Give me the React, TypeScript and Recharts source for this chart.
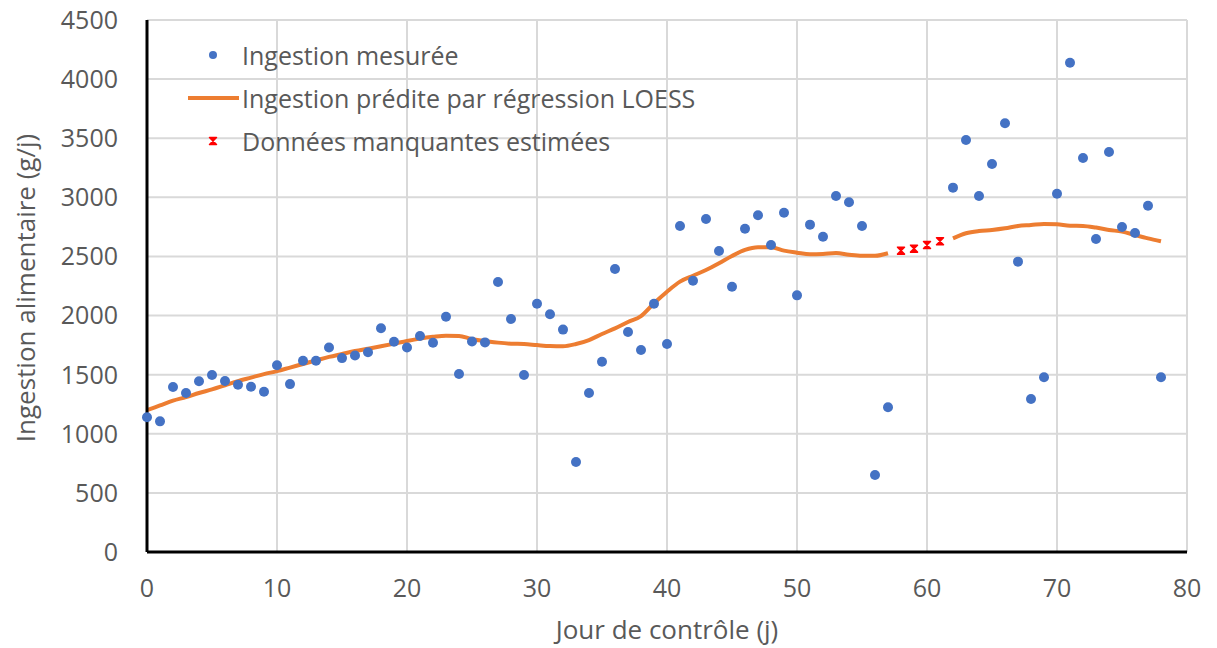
import React from 'react';
import {
  ComposedChart,
  Line,
  Scatter,
  XAxis,
  YAxis,
  CartesianGrid,
} from 'recharts';

// control days
const days: number[] = Array.from({ length: 79 }, (_, i) => i);

// measured intake (g/j), null = missing day
const measured: (number | null)[] = [
  1140, 1105, 1395, 1345, 1445, 1497, 1446, 1414, 1398, 1355,
  1580, 1420, 1618, 1618, 1730, 1640, 1662, 1690, 1893, 1778,
  1730, 1827, 1770, 1990, 1506, 1780, 1773, 2284, 1971, 1497,
  2100, 2011, 1881, 761, 1345, 1610, 2394, 1861, 1709, 2100,
  1760, 2758, 2295, 2817, 2546, 2244, 2735, 2848, 2597, 2870,
  2171, 2769, 2667, 3011, 2958, 2758, 651, 1224, null, null,
  null, null, 3082, 3485, 3011, 3282, 3626, 2456, 1294, 1478,
  3031, 4139, 3333, 2648, 3384, 2749, 2698, 2929, 1478,
];

// LOESS prediction, gap on the missing days
const loess: (number | null)[] = [
  1200, 1240, 1280, 1310, 1345, 1375, 1410, 1445, 1475, 1505,
  1530, 1560, 1590, 1620, 1650, 1675, 1700, 1720, 1740, 1762,
  1785, 1805, 1820, 1830, 1828, 1800, 1785, 1771, 1762, 1759,
  1750, 1742, 1740, 1759, 1793, 1844, 1892, 1946, 1996, 2104,
  2202, 2287, 2337, 2385, 2442, 2504, 2555, 2577, 2577, 2549,
  2532, 2518, 2521, 2529, 2515, 2506, 2506, 2527, null, null,
  null, null, 2653, 2696, 2715, 2724, 2738, 2758, 2766, 2775,
  2772, 2760, 2758, 2744, 2724, 2710, 2681, 2653, 2628,
];

// estimated missing values
const estimatedDays: number[] = [58, 59, 60, 61];
const estimatedValues: number[] = [2549, 2566, 2597, 2628];

const xTicks = [0, 10, 20, 30, 40, 50, 60, 70, 80];
const yTicks = [0, 500, 1000, 1500, 2000, 2500, 3000, 3500, 4000, 4500];

const tableData = days.map((d, i) => ({ day: d, loess: loess[i] }));
const measuredData = days
  .map((d, i) => ({ day: d, value: measured[i] }))
  .filter(p => p.value !== null);
const estimatedData = estimatedDays.map((d, i) => ({ day: d, value: estimatedValues[i] }));

const FONT = '"Open Sans", "Noto Sans", sans-serif';
const GREY = '#595959';

const XMark = (props: any) => {
  const { cx, cy } = props;
  if (cx == null || cy == null) return null;
  const s = 3.5;
  return (
    <path
      d={`M${cx - s},${cy - s} L${cx + s},${cy - s} L${cx - s},${cy + s} L${cx + s},${cy + s} Z`}
      fill="#ff0000"
      stroke="#ff0000"
      strokeWidth={1.5}
      strokeLinejoin="round"
    />
  );
};

const Dot = (props: any) => {
  const { cx, cy } = props;
  if (cx == null || cy == null) return null;
  return <circle cx={cx} cy={cy} r={5} fill="#4472C4" />;
};

const legendRow: React.CSSProperties = { display: 'flex', alignItems: 'center', height: 43 };

const LegendBox = () => (
  <div
    style={{
      position: 'absolute',
      top: 33,
      left: 186,
      fontFamily: FONT,
      fontSize: 25,
      color: GREY,
      whiteSpace: 'nowrap',
    }}
  >
    <div style={legendRow}>
      <svg width={56} height={20}>
        <circle cx={27} cy={10} r={4} fill="#4472C4" />
      </svg>
      <span>Ingestion mesurée</span>
    </div>
    <div style={legendRow}>
      <svg width={56} height={20}>
        <line x1={2} y1={10} x2={53} y2={10} stroke="#ED7D31" strokeWidth={4} />
      </svg>
      <span>Ingestion prédite par régression LOESS</span>
    </div>
    <div style={legendRow}>
      <svg width={56} height={20}>
        <XMark cx={27} cy={10} />
      </svg>
      <span>Données manquantes estimées</span>
    </div>
  </div>
);

const App: React.FC = () => {
  return (
    <div style={{ position: 'absolute', left: 0, top: 0, width: 1217, height: 648, background: '#fff' }}>
      <ComposedChart
        width={1217}
        height={648}
        data={tableData}
        margin={{ top: 20, right: 30, bottom: 0, left: 0 }}
      >
        <CartesianGrid stroke="#d9d9d9" strokeWidth={2} />
        <XAxis
          type="number"
          dataKey="day"
          domain={[0, 80]}
          ticks={xTicks}
          height={96}
          tickLine={false}
          tickSize={0}
          tickMargin={27}
          axisLine={{ stroke: '#000', strokeWidth: 3 }}
          tick={{ fill: GREY, fontSize: 25, fontFamily: FONT }}
          label={{
            value: 'Jour de contrôle (j)',
            position: 'insideBottom',
            offset: 9,
            fill: GREY,
            fontSize: 26,
            fontFamily: FONT,
          }}
        />
        <YAxis
          type="number"
          domain={[0, 4500]}
          ticks={yTicks}
          width={147}
          tickLine={false}
          tickSize={0}
          tickMargin={29}
          axisLine={{ stroke: '#000', strokeWidth: 3 }}
          tick={{ fill: GREY, fontSize: 25, fontFamily: FONT }}
          label={{
            content: () => (
              <text
                x={25}
                y={288}
                transform="rotate(-90 25 288)"
                textAnchor="middle"
                dominantBaseline="central"
                fill={GREY}
                fontSize={26}
                fontFamily={FONT}
              >
                Ingestion alimentaire (g/j)
              </text>
            ),
          }}
        />
        <Scatter
          data={measuredData}
          dataKey="value"
          shape={<Dot />}
          isAnimationActive={false}
        />
        <Line
          type="monotone"
          dataKey="loess"
          stroke="#ED7D31"
          strokeWidth={4}
          dot={false}
          activeDot={false}
          connectNulls={false}
          isAnimationActive={false}
        />
        <Scatter
          data={estimatedData}
          dataKey="value"
          shape={<XMark />}
          isAnimationActive={false}
        />
      </ComposedChart>
      <LegendBox />
    </div>
  );
};

export default App;
